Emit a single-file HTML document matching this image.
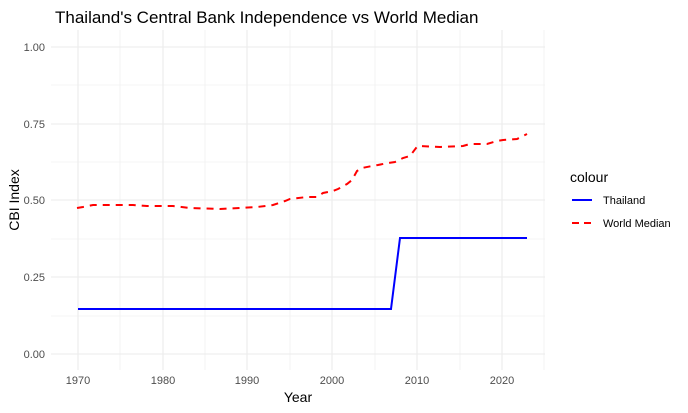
<!DOCTYPE html>
<html><head><meta charset="utf-8"><style>body{margin:0;background:#fff}svg{display:block;font-family:"Liberation Sans",sans-serif}</style></head><body>
<svg width="688" height="413" viewBox="0 0 688 413">
<rect width="688" height="413" fill="#fff"/>
<g stroke="#ebebeb" stroke-width="0.6">
<line x1="51" x2="545" y1="316" y2="316"/><line x1="51" x2="545" y1="239" y2="239"/><line x1="51" x2="545" y1="162" y2="162"/><line x1="51" x2="545" y1="85" y2="85"/>
<line x1="120" x2="120" y1="30" y2="370"/><line x1="205" x2="205" y1="30" y2="370"/><line x1="290" x2="290" y1="30" y2="370"/><line x1="375" x2="375" y1="30" y2="370"/><line x1="460" x2="460" y1="30" y2="370"/><line x1="544" x2="544" y1="30" y2="370"/>
</g>
<g stroke="#ebebeb" stroke-width="1.1">
<line x1="51" x2="545" y1="354" y2="354"/><line x1="51" x2="545" y1="277" y2="277"/><line x1="51" x2="545" y1="200" y2="200"/><line x1="51" x2="545" y1="124" y2="124"/><line x1="51" x2="545" y1="47" y2="47"/>
<line x1="78" x2="78" y1="30" y2="370"/><line x1="163" x2="163" y1="30" y2="370"/><line x1="247" x2="247" y1="30" y2="370"/><line x1="332" x2="332" y1="30" y2="370"/><line x1="417" x2="417" y1="30" y2="370"/><line x1="502" x2="502" y1="30" y2="370"/>
</g>
<polyline fill="none" stroke="#0000ff" stroke-width="2" points="78,309 391,309 400,238 527,238"/>
<polyline fill="none" stroke="#ff0000" stroke-width="2" stroke-dasharray="7,6" points="77,208 83,207 93,205 133,205 147,206 173,206 190,208 220,209 240,208 257,207 273,205 285,201 290,199 307,197 317,197 323,193 333,191 338,189 347,184 352,180 357,171 362,168 372,166 378,165 388,163 395,162 403,158 410,156 416,148 418,146 440,147 463,146 470,144 487,144 497,141 503,140 517,139 527,134"/>
<g font-size="11" fill="#4d4d4d" text-anchor="end">
<text x="45" y="358">0.00</text><text x="45" y="281">0.25</text><text x="45" y="204">0.50</text><text x="45" y="128">0.75</text><text x="45" y="51">1.00</text>
</g>
<g font-size="11" fill="#4d4d4d" text-anchor="middle">
<text x="78" y="384">1970</text><text x="163" y="384">1980</text><text x="247" y="384">1990</text><text x="332" y="384">2000</text><text x="417" y="384">2010</text><text x="502" y="384">2020</text>
</g>
<text x="298" y="402" font-size="14" text-anchor="middle">Year</text>
<text x="19" y="200" font-size="14" text-anchor="middle" transform="rotate(-90 19 200)">CBI Index</text>
<text x="55" y="23" font-size="17">Thailand's Central Bank Independence vs World Median</text>
<text x="570" y="182" font-size="14">colour</text>
<line x1="572" x2="592" y1="200" y2="200" stroke="#0000ff" stroke-width="2"/>
<text x="603" y="204" font-size="11">Thailand</text>
<line x1="572" x2="592" y1="223" y2="223" stroke="#ff0000" stroke-width="2" stroke-dasharray="7,5"/>
<text x="603" y="227" font-size="11">World Median</text>
</svg>
</body></html>
